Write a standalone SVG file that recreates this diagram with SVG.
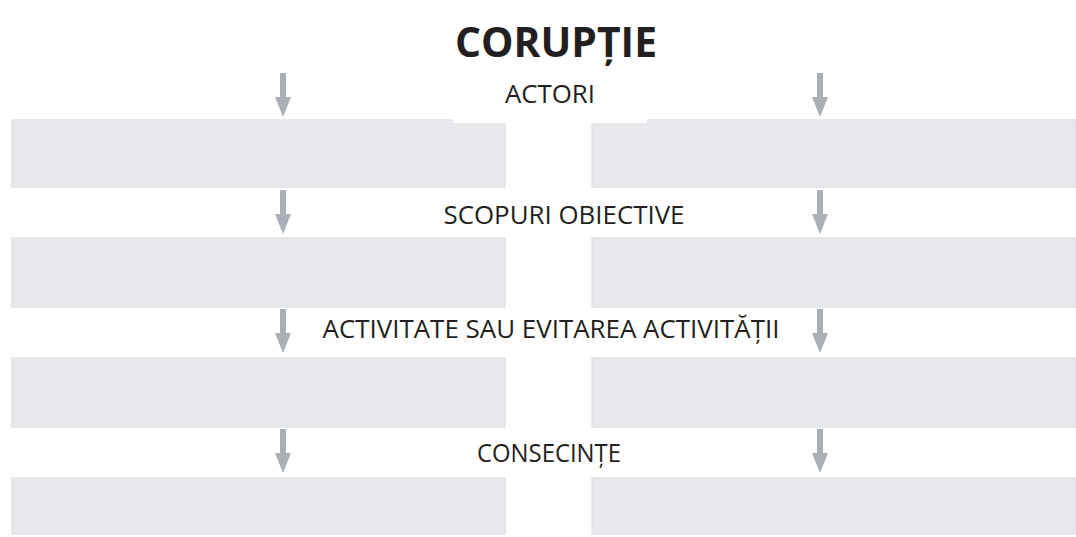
<svg xmlns="http://www.w3.org/2000/svg" width="1076" height="537" viewBox="0 0 1076 537">
  <style>
    .box { fill: #e6e8eb; stroke: #dfe2e6; stroke-width: 1.5; }
    .lbl { font-family: "Open Sans", "Liberation Sans", sans-serif; font-size: 26px; fill: #231f20; text-anchor: middle; }
    .title { font-family: "Open Sans", "Liberation Sans", sans-serif; font-size: 41px; font-weight: bold; fill: #231f20; text-anchor: middle; }
    .arr { fill: #abafb6; }
  </style>
  <rect width="1076" height="537" fill="#ffffff"/>

  <g id="title">
    <text class="title" x="556" y="57" textLength="202" lengthAdjust="spacingAndGlyphs">CORUPȚIE</text>
  </g>

  <g id="row1-left"><rect class="box" x="12" y="120" width="493" height="67"/></g>
  <g id="row1-right"><rect class="box" x="592" y="120" width="484" height="67"/></g>
  <g id="row2-left"><rect class="box" x="12" y="238" width="493" height="69"/></g>
  <g id="row2-right"><rect class="box" x="592" y="238" width="484" height="69"/></g>
  <g id="row3-left"><rect class="box" x="12" y="358" width="493" height="69"/></g>
  <g id="row3-right"><rect class="box" x="592" y="358" width="484" height="69"/></g>
  <g id="row4-left"><rect class="box" x="12" y="478" width="493" height="56"/></g>
  <g id="row4-right"><rect class="box" x="592" y="478" width="484" height="56"/></g>

  <g id="label-actori">
    <rect x="453" y="74" width="194" height="49" fill="#ffffff"/>
    <text class="lbl" x="550" y="103" textLength="90" lengthAdjust="spacingAndGlyphs">ACTORI</text>
  </g>
  <g id="label-scopuri">
    <text class="lbl" x="564" y="224" textLength="241" lengthAdjust="spacingAndGlyphs">SCOPURI OBIECTIVE</text>
  </g>
  <g id="label-activitate">
    <text class="lbl" x="551" y="338" textLength="457" lengthAdjust="spacingAndGlyphs">ACTIVITATE SAU EVITAREA ACTIVITĂȚII</text>
  </g>
  <g id="label-consecinte">
    <text class="lbl" x="549" y="462" textLength="144" lengthAdjust="spacingAndGlyphs">CONSECINȚE</text>
  </g>

  <g id="connectors" class="arr">
    <path d="M280,73 H286 V97 H291 L283,117 L275,97 H280 Z"/>
    <path d="M817,73 H823 V97 H828 L820,117 L812,97 H817 Z"/>
    <path d="M280,190 H286 V214 H291 L283,234 L275,214 H280 Z"/>
    <path d="M817,190 H823 V214 H828 L820,234 L812,214 H817 Z"/>
    <path d="M280,309 H286 V333 H291 L283,353 L275,333 H280 Z"/>
    <path d="M817,309 H823 V333 H828 L820,353 L812,333 H817 Z"/>
    <path d="M280,429 H286 V453 H291 L283,473 L275,453 H280 Z"/>
    <path d="M817,429 H823 V453 H828 L820,473 L812,453 H817 Z"/>
  </g>
</svg>
